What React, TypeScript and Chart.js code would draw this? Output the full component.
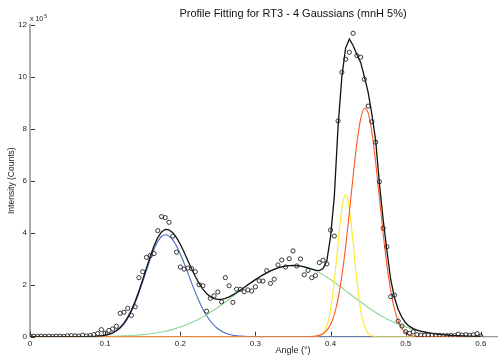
import { useEffect, useRef } from 'react';
import { Chart, registerables } from 'chart.js';

Chart.register(...registerables);

const TITLE = 'Profile Fitting for RT3 - 4 Gaussians (mnH 5%)';
const X_TITLE = 'Angle (°)';
const Y_TITLE = 'Intensity (Counts)';
const Y_EXP_BASE = 'x 10';
const Y_EXP_POWER = '5';

const X_TICKS = [0, 0.1, 0.2, 0.3, 0.4, 0.5, 0.6, 0.7];
const Y_TICKS = [0, 2, 4, 6, 8, 10, 12];

// Angle (deg) grid of the measured profile
const ANGLES = [
  0, 0.005, 0.01, 0.015, 0.02, 0.025, 0.03, 0.035, 0.04, 0.045,
  0.05, 0.055, 0.06, 0.065, 0.07, 0.075, 0.08, 0.085, 0.09, 0.095,
  0.1, 0.105, 0.11, 0.115, 0.12, 0.125, 0.13, 0.135, 0.14, 0.145,
  0.15, 0.155, 0.16, 0.165, 0.17, 0.175, 0.18, 0.185, 0.19, 0.195,
  0.2, 0.205, 0.21, 0.215, 0.22, 0.225, 0.23, 0.235, 0.24, 0.245,
  0.25, 0.255, 0.26, 0.265, 0.27, 0.275, 0.28, 0.285, 0.29, 0.295,
  0.3, 0.305, 0.31, 0.315, 0.32, 0.325, 0.33, 0.335, 0.34, 0.345,
  0.35, 0.355, 0.36, 0.365, 0.37, 0.375, 0.38, 0.385, 0.39, 0.395,
  0.4, 0.405, 0.41, 0.415, 0.42, 0.425, 0.43, 0.435, 0.44, 0.445,
  0.45, 0.455, 0.46, 0.465, 0.47, 0.475, 0.48, 0.485, 0.49, 0.495,
  0.5, 0.505, 0.51, 0.515, 0.52, 0.525, 0.53, 0.535, 0.54, 0.545,
  0.55, 0.555, 0.56, 0.565, 0.57, 0.575, 0.58, 0.585, 0.59, 0.595,
  0.6,
];

// Measured intensity (x 10^5 counts)
const OBSERVED = [
  0.02, 0.02, 0.01, 0.02, 0.01, 0.02, 0.01, 0.02, 0.02, 0.01,
  0.03, 0.04, 0.03, 0.02, 0.06, 0.03, 0.04, 0.08, 0.12, 0.27,
  0.14, 0.24, 0.30, 0.40, 0.90, 0.94, 1.09, 0.82, 1.15, 2.27,
  2.50, 3.05, 3.12, 3.20, 4.08, 4.62, 4.58, 4.40, 3.87, 3.25,
  2.68, 2.60, 2.64, 2.62, 2.50, 2.00, 1.96, 0.98, 1.48, 1.57,
  1.72, 1.34, 2.27, 1.96, 1.32, 1.83, 1.82, 1.73, 1.80, 1.76,
  1.92, 2.15, 2.14, 2.54, 2.05, 2.21, 2.76, 2.95, 2.68, 3.00,
  3.30, 2.72, 2.99, 2.38, 2.55, 2.27, 2.35, 2.85, 2.94, 2.80,
  4.10, 3.87, 8.30, 10.17, 10.67, 10.94, 11.67, 10.81, 10.75, 9.90,
  8.87, 8.27, 7.48, 5.96, 4.17, 3.46, 1.54, 1.60, 0.60, 0.41,
  0.19, 0.13, 0.19, 0.08, 0.06, 0.05, 0.06, 0.05, 0.05, 0.05,
  0.04, 0.04, 0.05, 0.04, 0.10, 0.06, 0.08, 0.05, 0.07, 0.12,
  0.02,
];

// Total fit (black)
const FIT_TOTAL = [
  0, 0, 0, 0, 0, 0, 0, 0, 0, 0,
  0.001, 0.001, 0.002, 0.002, 0.004, 0.005, 0.008, 0.013, 0.022, 0.036,
  0.06, 0.096, 0.152, 0.236, 0.357, 0.522, 0.743, 1.023, 1.362, 1.757,
  2.192, 2.646, 3.09, 3.49, 3.814, 4.033, 4.13, 4.113, 4.002, 3.811,
  3.554, 3.255, 2.934, 2.614, 2.315, 2.05, 1.829, 1.659, 1.537, 1.463,
  1.433, 1.438, 1.474, 1.533, 1.609, 1.698, 1.794, 1.895, 1.997, 2.098,
  2.196, 2.289, 2.377, 2.457, 2.529, 2.592, 2.644, 2.686, 2.716, 2.734,
  2.74, 2.734, 2.716, 2.686, 2.647, 2.601, 2.557, 2.543, 2.623, 2.92,
  3.85, 5.4, 8.1, 10.0, 11.1, 11.45, 11.2, 10.85, 10.55, 10.0,
  9.4, 8.55, 7.55, 5.9, 4.5, 3.3, 2.2, 1.5, 1.05, 0.74,
  0.526, 0.395, 0.311, 0.256, 0.214, 0.181, 0.154, 0.131, 0.111, 0.093,
  0.078, 0.065, 0.054, 0.045, 0.037, 0.03, 0.025, 0.02, 0.016, 0.013,
  0.011,
];

// Peak 1 (blue)
const PEAK_BLUE = [
  0, 0, 0, 0, 0, 0, 0, 0, 0, 0,
  0, 0, 0, 0, 0.001, 0.002, 0.004, 0.008, 0.015, 0.028,
  0.049, 0.083, 0.136, 0.216, 0.332, 0.492, 0.706, 0.978, 1.308, 1.692,
  2.114, 2.553, 2.979, 3.359, 3.66, 3.853, 3.92, 3.869, 3.721, 3.487,
  3.183, 2.832, 2.454, 2.072, 1.705, 1.367, 1.067, 0.813, 0.603, 0.435,
  0.307, 0.21, 0.14, 0.091, 0.058, 0.036, 0.022, 0.013, 0.007, 0.004,
  0.002, 0, 0, 0, 0, 0, 0, 0, 0, 0,
  0, 0, 0, 0, 0, 0, 0, 0, 0, 0,
  0, 0, 0, 0, 0, 0, 0, 0, 0, 0,
  0, 0, 0, 0, 0, 0, 0, 0, 0, 0,
  0, 0, 0, 0, 0, 0, 0, 0, 0, 0,
  0, 0, 0, 0, 0, 0, 0, 0, 0, 0,
  0,
];

// Peak 2 (green, broad)
const PEAK_GREEN = [
  0, 0, 0, 0, 0, 0, 0, 0, 0, 0,
  0.001, 0.001, 0.002, 0.002, 0.003, 0.003, 0.004, 0.005, 0.007, 0.009,
  0.011, 0.013, 0.016, 0.02, 0.025, 0.03, 0.037, 0.045, 0.054, 0.065,
  0.078, 0.093, 0.111, 0.131, 0.154, 0.18, 0.21, 0.244, 0.281, 0.324,
  0.371, 0.423, 0.48, 0.542, 0.61, 0.683, 0.762, 0.846, 0.934, 1.028,
  1.126, 1.228, 1.334, 1.442, 1.551, 1.662, 1.772, 1.882, 1.99, 2.094,
  2.194, 2.289, 2.377, 2.457, 2.529, 2.592, 2.644, 2.686, 2.716, 2.734,
  2.74, 2.734, 2.716, 2.686, 2.644, 2.592, 2.529, 2.457, 2.377, 2.289,
  2.194, 2.094, 1.99, 1.882, 1.772, 1.662, 1.551, 1.442, 1.334, 1.228,
  1.126, 1.028, 0.934, 0.846, 0.762, 0.683, 0.61, 0.542, 0.48, 0.423,
  0.371, 0.324, 0.281, 0.244, 0.21, 0.18, 0.154, 0.131, 0.111, 0.093,
  0.078, 0.065, 0.054, 0.045, 0.037, 0.03, 0.025, 0.02, 0.016, 0.013,
  0.011,
];

// Peak 4 (orange-red)
const PEAK_ORANGE = [
  0, 0, 0, 0, 0, 0, 0, 0, 0, 0,
  0, 0, 0, 0, 0, 0, 0, 0, 0, 0,
  0, 0, 0, 0, 0, 0, 0, 0, 0, 0,
  0, 0, 0, 0, 0, 0, 0, 0, 0, 0,
  0, 0, 0, 0, 0, 0, 0, 0, 0, 0,
  0, 0, 0, 0, 0, 0, 0, 0, 0, 0,
  0, 0, 0, 0, 0, 0, 0, 0, 0, 0,
  0, 0, 0, 0, 0.003, 0.008, 0.021, 0.051, 0.114, 0.24,
  0.469, 0.858, 1.461, 2.325, 3.45, 4.778, 6.172, 7.442, 8.372, 8.788,
  8.607, 7.866, 6.708, 5.337, 3.963, 2.745, 1.775, 1.07, 0.603, 0.317,
  0.155, 0.071, 0.03, 0.012, 0.004, 0.001, 0, 0, 0, 0,
  0, 0, 0, 0, 0, 0, 0, 0, 0, 0,
  0,
];

// Peak 3 (yellow, narrow) on its own finer angle grid
const YELLOW_ANGLES = [
  0, 0.37, 0.38, 0.385, 0.3875, 0.39, 0.3925, 0.395, 0.3975, 0.4,
  0.4025, 0.405, 0.4075, 0.41, 0.4125, 0.415, 0.4175, 0.42, 0.4225, 0.425,
  0.4275, 0.43, 0.4325, 0.435, 0.4375, 0.44, 0.4425, 0.445, 0.4475, 0.45,
  0.4525, 0.455, 0.46, 0.47, 0.6,
];
const PEAK_YELLOW = [
  0, 0, 0.007, 0.035, 0.069, 0.132, 0.239, 0.412, 0.673, 1.044,
  1.537, 2.151, 2.857, 3.605, 4.32, 4.915, 5.311, 5.45, 5.311, 4.915,
  4.32, 3.605, 2.857, 2.151, 1.537, 1.044, 0.673, 0.412, 0.239, 0.132,
  0.069, 0.035, 0.007, 0, 0,
];

const FONT = '"Liberation Sans", Arial, Helvetica, sans-serif';

const pts = (xs: number[], ys: number[]) => xs.map((x, i) => ({ x, y: ys[i] }));

const axisDecor = {
  id: 'axisDecor',
  afterDraw(chart: any) {
    const { ctx, chartArea, scales } = chart;
    const xs = scales.x;
    const ys = scales.y;
    ctx.save();
    ctx.strokeStyle = '#333';
    ctx.lineWidth = 1;
    ctx.beginPath();
    Y_TICKS.forEach((v) => {
      const py = Math.round(ys.getPixelForValue(v)) + 0.5;
      ctx.moveTo(chartArea.left + 1, py);
      ctx.lineTo(chartArea.left + 5, py);
    });
    X_TICKS.forEach((v) => {
      const px = Math.round(xs.getPixelForValue(v)) + 0.5;
      ctx.moveTo(px, chartArea.bottom - 1);
      ctx.lineTo(px, chartArea.bottom - 5);
    });
    ctx.stroke();
    ctx.fillStyle = '#222';
    ctx.textAlign = 'left';
    ctx.textBaseline = 'alphabetic';
    ctx.font = `7px ${FONT}`;
    ctx.fillText(Y_EXP_BASE, chartArea.left, chartArea.top - 3.5);
    const w = ctx.measureText(Y_EXP_BASE).width;
    ctx.font = `5px ${FONT}`;
    ctx.fillText(Y_EXP_POWER, chartArea.left + w + 1, chartArea.top - 6.5);
    ctx.restore();
  },
};

export default function App() {
  const ref = useRef<HTMLCanvasElement>(null);

  useEffect(() => {
    if (!ref.current) return;
    Chart.defaults.font.family = FONT;
    const line = (label: string, xs: number[], ys: number[], color: string, width: number, order: number, smooth: boolean) => ({
      label,
      data: pts(xs, ys),
      showLine: true,
      borderColor: color,
      backgroundColor: color,
      borderWidth: width,
      pointRadius: 0,
      pointHoverRadius: 0,
      tension: 0,
      cubicInterpolationMode: smooth ? 'monotone' : 'default',
      order,
    });
    const chart = new Chart(ref.current, {
      type: 'scatter',
      data: {
        datasets: [
          {
            label: 'Observed',
            data: pts(ANGLES, OBSERVED),
            showLine: false,
            pointStyle: 'circle',
            pointRadius: 2.1,
            pointBorderWidth: 0.9,
            borderColor: '#222',
            backgroundColor: 'rgba(0,0,0,0)',
            pointBackgroundColor: 'rgba(0,0,0,0)',
            pointBorderColor: '#222',
            order: 0,
          } as any,
          line('Fit', ANGLES, FIT_TOTAL, '#111111', 1.3, 1, false) as any,
          line('Peak 4', ANGLES, PEAK_ORANGE, 'rgb(255,85,30)', 1.1, 2, true) as any,
          line('Peak 3', YELLOW_ANGLES, PEAK_YELLOW, 'rgb(255,232,40)', 1.1, 3, true) as any,
          line('Peak 2', ANGLES, PEAK_GREEN, 'rgb(140,212,152)', 1.1, 4, true) as any,
          line('Peak 1', ANGLES, PEAK_BLUE, 'rgb(70,105,200)', 1.1, 5, true) as any,
        ],
      },
      options: {
        animation: false,
        responsive: false,
        devicePixelRatio: 1,
        layout: { padding: { left: 0, right: 10, top: 0, bottom: 0 } },
        plugins: {
          legend: { display: false },
          tooltip: { enabled: false },
          title: {
            display: true,
            text: TITLE,
            fullSize: false,
            color: '#111',
            font: { size: 11, weight: 'normal', family: FONT },
            padding: { top: 7.4, bottom: 4.1 },
          },
        },
        scales: {
          x: {
            type: 'linear',
            min: 0,
            max: 0.7,
            grid: { display: false, drawTicks: false },
            border: { display: true, color: '#999', width: 1.2 },
            ticks: {
              stepSize: 0.1,
              padding: 2,
              color: '#222',
              font: { size: 8, family: FONT },
              autoSkip: false,
              maxRotation: 0,
              callback: (v: any) => String(Number(Number(v).toFixed(1))),
            },
            title: {
              display: true,
              text: X_TITLE,
              color: '#222',
              font: { size: 9, family: FONT },
              padding: { top: 0, bottom: 1 },
            },
            afterFit: (s: any) => {
              s.height = 20.3;
            },
          },
          y: {
            type: 'linear',
            min: 0,
            max: 12,
            grid: { display: false, drawTicks: false },
            border: { display: true, color: '#aaa', width: 2 },
            ticks: {
              stepSize: 2,
              padding: 3,
              color: '#222',
              font: { size: 8, family: FONT },
              callback: (v: any) => String(v),
            },
            title: {
              display: true,
              text: Y_TITLE,
              color: '#222',
              font: { size: 8.5, family: FONT },
              padding: { top: 7, bottom: 0 },
            },
            afterFit: (s: any) => {
              s.width = 30;
            },
          },
        },
      } as any,
      plugins: [axisDecor],
    });
    return () => chart.destroy();
  }, []);

  return (
    <div
      style={{
        position: 'fixed',
        left: 0,
        top: 0,
        width: 498,
        height: 357,
        overflow: 'hidden',
        background: '#fff',
      }}
    >
      <canvas ref={ref} width={566} height={357} style={{ display: 'block', width: 566, height: 357 }} />
    </div>
  );
}
